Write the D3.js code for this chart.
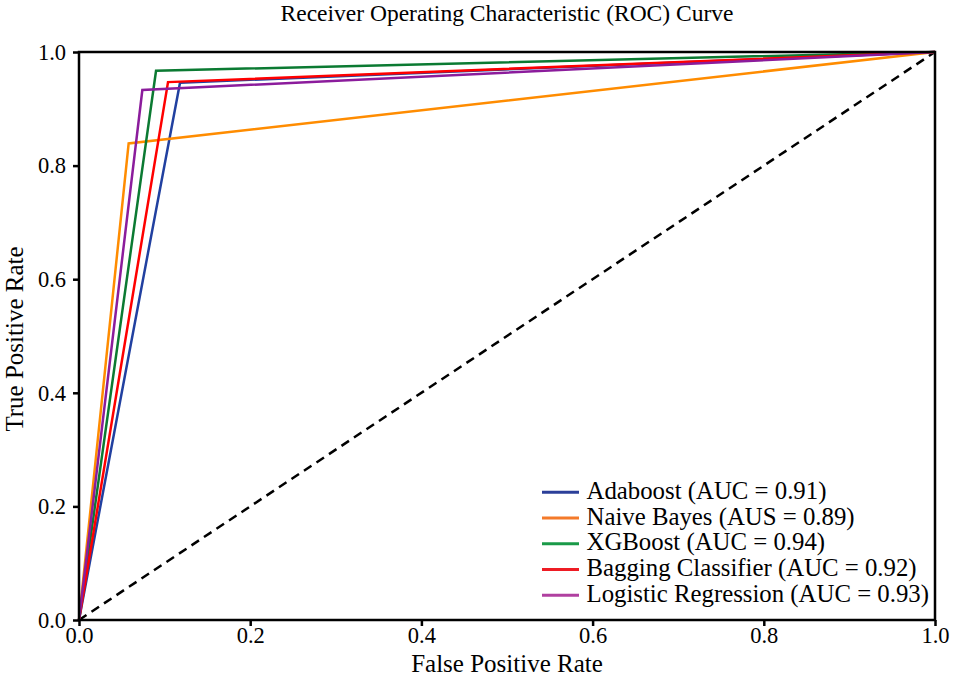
<!DOCTYPE html>
<html>
<head>
<meta charset="utf-8">
<script src="https://cdn.jsdelivr.net/npm/d3@7"></script>
<style>
  body { margin: 0; background: #fff; }
</style>
</head>
<body>
<svg id="chart"></svg>
<script>
// ------ Données ------
const modelNames = ["Adaboost", "Naive Bayes", "XGBoost", "Bagging Classifier", "Logistic Regression"]
const legendLabels = ["Adaboost (AUC = 0.91)", "Naive Bayes (AUS = 0.89)", "XGBoost (AUC = 0.94)",
    "Bagging Classifier (AUC = 0.92)", "Logistic Regression (AUC = 0.93)"]
// points ROC (fpr, tpr)
const fprValues = [
    [0, 0.118, 1],
    [0, 0.058, 1],
    [0, 0.090, 1],
    [0, 0.104, 1],
    [0, 0.074, 1]
]
const tprValues = [
    [0, 0.946, 1],
    [0, 0.839, 1],
    [0, 0.967, 1],
    [0, 0.947, 1],
    [0, 0.933, 1]
]
const lineColors = ["#2140a0", "#ff8c00", "#0b7a32", "#ff0000", "#8b1c9c"]
const legendColors = ["#2b3f99", "#f47a2a", "#1a9a48", "#ee1c24", "#b040a0"]
const tickValues = [0, 0.2, 0.4, 0.6, 0.8, 1.0]

const serif = "'Liberation Serif', 'Times New Roman', serif"

// ------ Cadre ------
const width = 955, height = 678
const margin = { top: 52, right: 20, bottom: 58, left: 79 }

const svg = d3.select("#chart")
    .attr("width", width)
    .attr("height", height)

const x = d3.scaleLinear().domain([0, 1]).range([margin.left, width - margin.right])
const y = d3.scaleLinear().domain([0, 1]).range([height - margin.bottom, margin.top])

// ligne diagonale
svg.append("line")
    .attr("x1", x(0)).attr("y1", y(0))
    .attr("x2", x(1)).attr("y2", y(1))
    .attr("stroke", "#000")
    .attr("stroke-width", 2.5)
    .attr("stroke-dasharray", "9,6")

// courbes
const line = d3.line().x(d => x(d[0])).y(d => y(d[1]))
modelNames.forEach((name, i) => {
    const pts = fprValues[i].map((f, j) => [f, tprValues[i][j]])
    svg.append("path")
        .datum(pts)
        .attr("class", "roc")
        .attr("name", name)
        .attr("fill", "none")
        .attr("stroke", lineColors[i])
        .attr("stroke-width", 2.5)
        .attr("d", line)
})

// cadre
svg.append("rect")
    .attr("x", x(0)).attr("y", y(1))
    .attr("width", x(1) - x(0)).attr("height", y(0) - y(1))
    .attr("fill", "none")
    .attr("stroke", "#000")
    .attr("stroke-width", 2.5)

// axes
const fmt = d3.format(".1f")
const xAxis = svg.append("g")
    .attr("transform", `translate(0,${y(0)})`)
    .call(d3.axisBottom(x).tickValues(tickValues).tickFormat(fmt).tickSize(6).tickPadding(1))
const yAxis = svg.append("g")
    .attr("transform", `translate(${x(0)},0)`)
    .call(d3.axisLeft(y).tickValues(tickValues).tickFormat(fmt).tickSize(6).tickPadding(7))

;[xAxis, yAxis].forEach(a => {
    a.attr("font-family", null).attr("font-size", null)
    a.select(".domain").remove()
    a.selectAll(".tick line").attr("stroke", "#000").attr("stroke-width", 2.5)
    a.selectAll(".tick text")
        .style("font-family", serif)
        .style("font-size", "22.5px")
        .attr("fill", "#000")
})

// titres
svg.append("text")
    .attr("x", (x(0) + x(1)) / 2)
    .attr("y", 21)
    .attr("text-anchor", "middle")
    .style("font-family", serif)
    .style("font-size", "23.5px")
    .text("Receiver Operating Characteristic (ROC) Curve")

svg.append("text")
    .attr("x", (x(0) + x(1)) / 2)
    .attr("y", 672)
    .attr("text-anchor", "middle")
    .style("font-family", serif)
    .style("font-size", "25px")
    .text("False Positive Rate")

svg.append("text")
    .attr("transform", `translate(23,${(y(0) + y(1)) / 2 + 3}) rotate(-90)`)
    .attr("text-anchor", "middle")
    .style("font-family", serif)
    .style("font-size", "25px")
    .text("True Positive Rate")

// légende
const legend = svg.append("g").attr("transform", "translate(542,492.3)")
legendLabels.forEach((lab, i) => {
    const row = legend.append("g").attr("transform", `translate(0,${i * 25.75})`)
    row.append("line")
        .attr("x1", 0).attr("x2", 37)
        .attr("y1", 0).attr("y2", 0)
        .attr("stroke", legendColors[i])
        .attr("stroke-width", 3)
    row.append("text")
        .attr("x", 44.5)
        .attr("y", 6.5)
        .style("font-family", serif)
        .style("font-size", "24.8px")
        .text(lab)
})
</script>
</body>
</html>
